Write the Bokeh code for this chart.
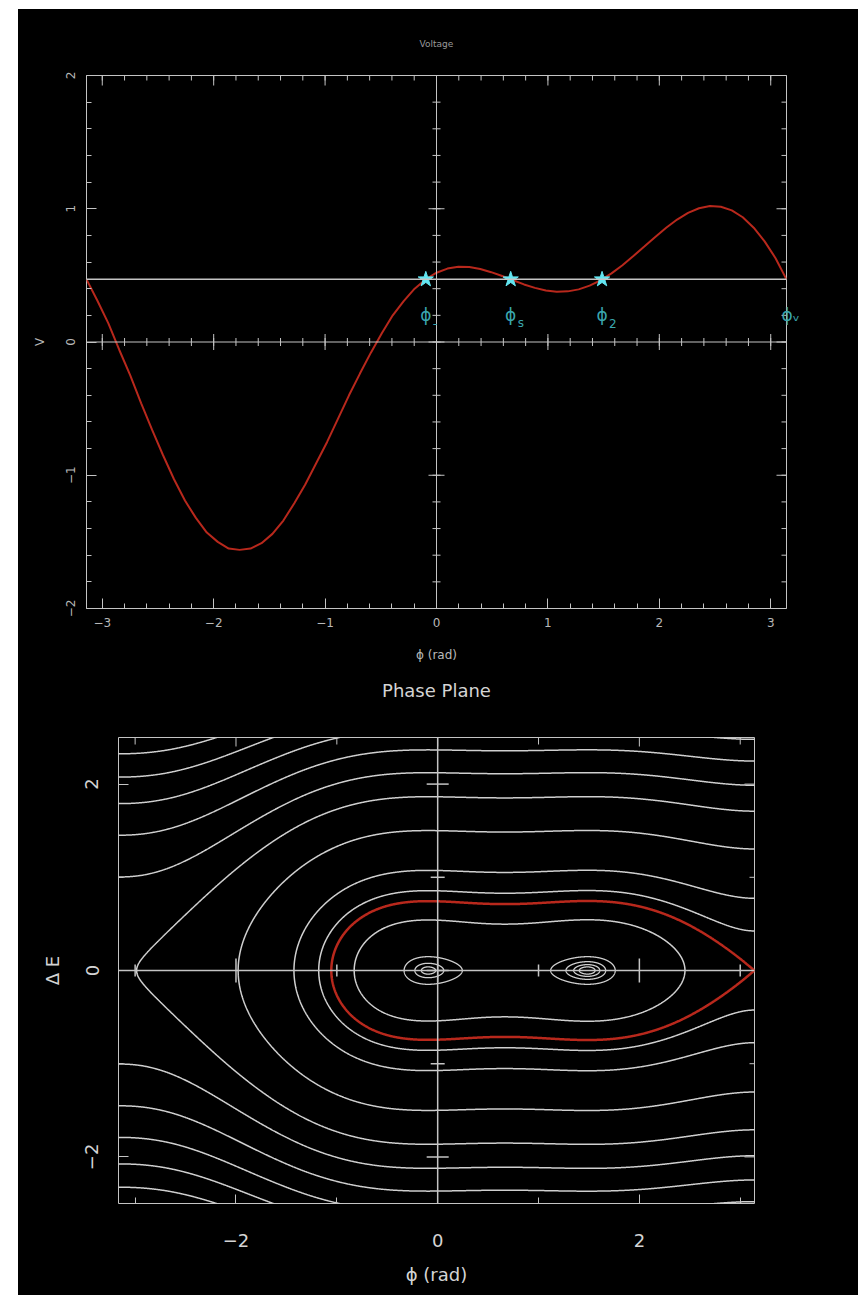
import numpy as np
from bokeh.plotting import figure
from bokeh.layouts import column, row
from bokeh.models import Spacer, Range1d, FixedTicker, LinearAxis, Span, Label
from bokeh.embed import file_html
from bokeh.resources import INLINE

# ---------------- data ----------------
phi_pts = [-3.1416, -3.0434, -2.9452, -2.8471, -2.7489, -2.6507, -2.5525, -2.4544,
           -2.3562, -2.2580, -2.1598, -2.0617, -1.9635, -1.8653, -1.7671, -1.6690,
           -1.5708, -1.4726, -1.3744, -1.2763, -1.1781, -1.0799, -0.9817, -0.8836,
           -0.7854, -0.6872, -0.5890, -0.4909, -0.3927, -0.2945, -0.1963, -0.0982,
           0.0, 0.0982, 0.1963, 0.2945, 0.3927, 0.4909, 0.5890, 0.6872,
           0.7854, 0.8836, 0.9817, 1.0799, 1.1781, 1.2763, 1.3744, 1.4726,
           1.5708, 1.6690, 1.7671, 1.8653, 1.9635, 2.0617, 2.1598, 2.2580,
           2.3562, 2.4544, 2.5525, 2.6507, 2.7489, 2.8471, 2.9452, 3.0434, 3.1416]
v_pts = [0.47, 0.31, 0.14, -0.06, -0.25, -0.46, -0.66, -0.85,
         -1.03, -1.19, -1.32, -1.43, -1.50, -1.55, -1.56, -1.55,
         -1.51, -1.44, -1.34, -1.21, -1.07, -0.91, -0.75, -0.575,
         -0.40, -0.237, -0.08, 0.066, 0.20, 0.307, 0.40, 0.469,
         0.52, 0.551, 0.565, 0.563, 0.548, 0.524, 0.495, 0.463,
         0.432, 0.406, 0.387, 0.377, 0.380, 0.395, 0.423, 0.463,
         0.515, 0.576, 0.645, 0.716, 0.788, 0.857, 0.919, 0.969,
         1.004, 1.020, 1.015, 0.988, 0.936, 0.858, 0.755, 0.629, 0.47]
v_sync = 0.47
fixed_phi = [-0.096, 0.666, 1.486]
label_sub = ["-", "s", "2"]
label_v = 0.2
edge_label = "\u03d5\u1d65"
stable_phi = [-0.096, 1.486]

sep_level = 0.0
outer_levels = [0.18, 0.6, 1.7, 3.95, 5.05, 6.15, 7.25, 8.35]
cusp_gap = 0.02
inner_levels = [-0.26]
well_offsets = [[0.0015, 0.006, 0.022], [0.0015, 0.004, 0.009, 0.022]]

top_xticks = [-3, -2, -1, 0, 1, 2, 3]
top_yticks = [-2, -1, 0, 1, 2]
top_xminor = [round(-3.0 + 0.2 * i, 2) for i in range(31)]
top_yminor = [round(-2.0 + 0.2 * i, 2) for i in range(21)]
bot_xticks = [-2, 0, 2]
bot_xminor = [-3, -1, 1, 3]
bot_yticks = [-2, 0, 2]
bot_yminor = [-1, 1]

# ---------------- styles ----------------
BG = "black"
FRAME = "#c4c4c4"
TXT1 = "#b8b8b8"
TXT2 = "#d4d4d4"
RED = "#b8281c"
CYAN = "#62e6f2"
TEAL = "#3aa6ae"
CONT = "#cfcfcf"
FONT = "DejaVu Sans"


def minus(v):
    return ("%g" % v).replace("-", "\u2212")


def set_axis(ax, major, minor, maj_len, min_len, size, color, standoff, vertical=False):
    ax.ticker = FixedTicker(ticks=major, minor_ticks=minor)
    ax.major_tick_in = maj_len
    ax.major_tick_out = 0
    ax.minor_tick_in = min_len
    ax.minor_tick_out = 0
    ax.major_tick_line_color = FRAME
    ax.minor_tick_line_color = FRAME
    ax.axis_line_color = None
    ax.major_label_overrides = {m: minus(m) for m in major}
    ax.major_label_text_font = FONT
    ax.major_label_text_font_size = size
    ax.major_label_text_color = color
    ax.major_label_standoff = standoff
    if vertical:
        ax.major_label_orientation = "vertical"


def set_label(ax, text, size, color, standoff):
    ax.axis_label = text
    ax.axis_label_text_font = FONT
    ax.axis_label_text_font_style = "normal"
    ax.axis_label_text_font_size = size
    ax.axis_label_text_color = color
    ax.axis_label_standoff = standoff


def title_axis(p, text, size, color, standoff):
    ax = LinearAxis(ticker=FixedTicker(ticks=[], minor_ticks=[]))
    ax.major_tick_in = 0
    ax.major_tick_out = 0
    ax.minor_tick_in = 0
    ax.minor_tick_out = 0
    ax.axis_line_color = None
    ax.major_label_standoff = 0
    set_label(ax, text, size, color, standoff)
    p.add_layout(ax, "above")


def edge_ticks(p, xs, ys, size, vertical):
    # centred dashes on the frame edge: the frame clips the outer half
    p.scatter(xs, ys, marker="dash", size=size, angle=(np.pi / 2 if vertical else 0),
              line_color=FRAME, line_width=1)


def make_fig(h, xr, yr, bl, br, bt, bb):
    p = figure(width=840, height=h, x_range=xr, y_range=yr,
               output_backend="svg", toolbar_location=None,
               background_fill_color=BG, border_fill_color=BG,
               min_border_left=bl, min_border_right=br, min_border_top=bt,
               min_border_bottom=bb)
    if "frame_align" in p.properties():
        p.frame_align = False
    p.outline_line_color = FRAME
    p.outline_line_width = 1
    p.grid.visible = False
    return p


# ================= top: Voltage =================
p1 = make_fig(667, Range1d(-np.pi, np.pi), Range1d(-2, 2), 68, 72, 66, 68)
xb, yl = p1.xaxis[0], p1.yaxis[0]
set_axis(xb, top_xticks, top_xminor, 10, 5, "12px", TXT1, 9)
set_axis(yl, top_yticks, top_yminor, 10, 5, "12px", TXT1, 12, vertical=True)
set_label(xb, "\u03d5 (rad)", "12px", TXT1, 18)
set_label(yl, "V", "12px", TXT1, 16)
title_axis(p1, "Voltage", "9px", "#9a9a9a", 27)

edge_ticks(p1, top_xticks, [2] * len(top_xticks), 20, True)
edge_ticks(p1, top_xminor, [2] * len(top_xminor), 10, True)
edge_ticks(p1, [np.pi] * len(top_yticks), top_yticks, 20, False)
edge_ticks(p1, [np.pi] * len(top_yminor), top_yminor, 10, False)

# label of the right-hand fixed point, drawn just outside the frame
ax_r = LinearAxis(ticker=FixedTicker(ticks=[label_v], minor_ticks=[]))
ax_r.major_tick_in = 0
ax_r.major_tick_out = 0
ax_r.minor_tick_in = 0
ax_r.minor_tick_out = 0
ax_r.axis_line_color = None
ax_r.major_label_overrides = {label_v: edge_label}
ax_r.major_label_text_font = FONT
ax_r.major_label_text_font_size = "17px"
ax_r.major_label_text_color = TEAL
ax_r.major_label_standoff = -5
p1.add_layout(ax_r, "right")

p1.add_layout(Span(location=0, dimension="width", line_color=FRAME, line_width=1))
p1.add_layout(Span(location=0, dimension="height", line_color=FRAME, line_width=1))
p1.add_layout(Span(location=v_sync, dimension="width", line_color=FRAME, line_width=1.5))
p1.scatter(top_xticks, [0] * len(top_xticks), marker="dash", size=16, angle=np.pi / 2,
           line_color=FRAME, line_width=1)
p1.scatter(top_xminor, [0] * len(top_xminor), marker="dash", size=8, angle=np.pi / 2,
           line_color=FRAME, line_width=1)
p1.scatter([0] * len(top_yticks), top_yticks, marker="dash", size=16,
           line_color=FRAME, line_width=1)
p1.scatter([0] * len(top_yminor), top_yminor, marker="dash", size=8,
           line_color=FRAME, line_width=1)

p1.line(phi_pts, v_pts, line_color=RED, line_width=2)
p1.scatter(fixed_phi, [v_sync] * len(fixed_phi), marker="star", size=16,
           fill_color=CYAN, line_color=CYAN)

for ph, sub in zip(fixed_phi, label_sub):
    p1.add_layout(Label(x=ph, y=label_v, text="\u03d5", text_align="center",
                        text_baseline="middle", text_font=FONT, text_font_size="17px",
                        text_color=TEAL))
    p1.add_layout(Label(x=ph, y=label_v, text=sub, x_offset=7, y_offset=-8,
                        text_align="left", text_baseline="middle", text_font=FONT,
                        text_font_size="12px", text_color=TEAL))

# ================= bottom: Phase plane =================
p2 = make_fig(619, Range1d(-3.165, np.pi), Range1d(-2.5, 2.5), 100, 104, 60, 92)
xb2, yl2 = p2.xaxis[0], p2.yaxis[0]
set_axis(xb2, bot_xticks, bot_xminor, 9, 6, "18px", TXT2, 30)
set_axis(yl2, bot_yticks, bot_yminor, 10, 5, "18px", TXT2, 20, vertical=True)
set_label(xb2, "\u03d5 (rad)", "18px", TXT2, 14)
set_label(yl2, "\u0394 E", "18px", TXT2, 20)
title_axis(p2, "Phase Plane", "18px", TXT2, 37)

edge_ticks(p2, bot_xticks, [2.5] * len(bot_xticks), 18, True)
edge_ticks(p2, bot_xminor, [2.5] * len(bot_xminor), 14, True)
edge_ticks(p2, [np.pi] * len(bot_yticks), bot_yticks, 20, False)
edge_ticks(p2, [np.pi] * len(bot_yminor), bot_yminor, 10, False)

p2.add_layout(Span(location=0, dimension="width", line_color=FRAME, line_width=1.5))
p2.add_layout(Span(location=0, dimension="height", line_color=FRAME, line_width=1.5))
p2.scatter(bot_xminor, [0] * len(bot_xminor), marker="dash", size=12, angle=np.pi / 2,
           line_color=FRAME, line_width=1.5)
p2.scatter(bot_xticks, [0] * len(bot_xticks), marker="dash", size=24, angle=np.pi / 2,
           line_color=FRAME, line_width=1.5)
p2.scatter([0] * len(bot_yminor), bot_yminor, marker="dash", size=14,
           line_color=FRAME, line_width=1.5)
p2.scatter([0] * len(bot_yticks), bot_yticks, marker="dash", size=22,
           line_color=FRAME, line_width=1.5)

# potential well from the voltage samples: H = dE^2 + U(phi), U' = V - Vs
two_pi = 2 * np.pi
phi_f = np.linspace(-3.3, 3.3, 1321)
v_f = np.interp(phi_f, phi_pts[:-1], v_pts[:-1], period=two_pi)
g = v_f - v_sync
U = np.concatenate([[0.0], np.cumsum(0.5 * (g[1:] + g[:-1]) * np.diff(phi_f))])
U = U - np.interp(np.pi, phi_f, U)
e_f = np.linspace(-2.6, 2.6, 521)
Z = e_f[:, None] ** 2 + U[None, :]

u_left = float(np.interp(-np.pi, phi_f, U))
levels = sorted(inner_levels + outer_levels + [u_left - cusp_gap])
p2.contour(phi_f, e_f, Z, levels, line_color=CONT, line_width=1.5, fill_color=None)

for ph, offs in zip(stable_phi, well_offsets):
    m = np.abs(phi_f - ph) < 0.5
    i = np.argmin(np.where(m, U, np.inf))
    pm, um = phi_f[i], U[i]
    ps = np.linspace(pm - 0.6, pm + 0.6, 601)
    us = np.interp(ps, phi_f, U)
    es = np.linspace(-0.3, 0.3, 301)
    zs = es[:, None] ** 2 + us[None, :]
    p2.contour(ps, es, zs, [um + o for o in offs], line_color=CONT, line_width=1.3,
               fill_color=None)

p2.contour(phi_f, e_f, Z, [sep_level], line_color=RED, line_width=2.5, fill_color=None)

black_col = column(Spacer(width=840, height=9, styles={"background-color": "white"}),
                   p1, p2, styles={"background-color": "black"})
layout = row(Spacer(width=18, height=1295), black_col)
open("out.html", "w").write(file_html(layout, INLINE))
